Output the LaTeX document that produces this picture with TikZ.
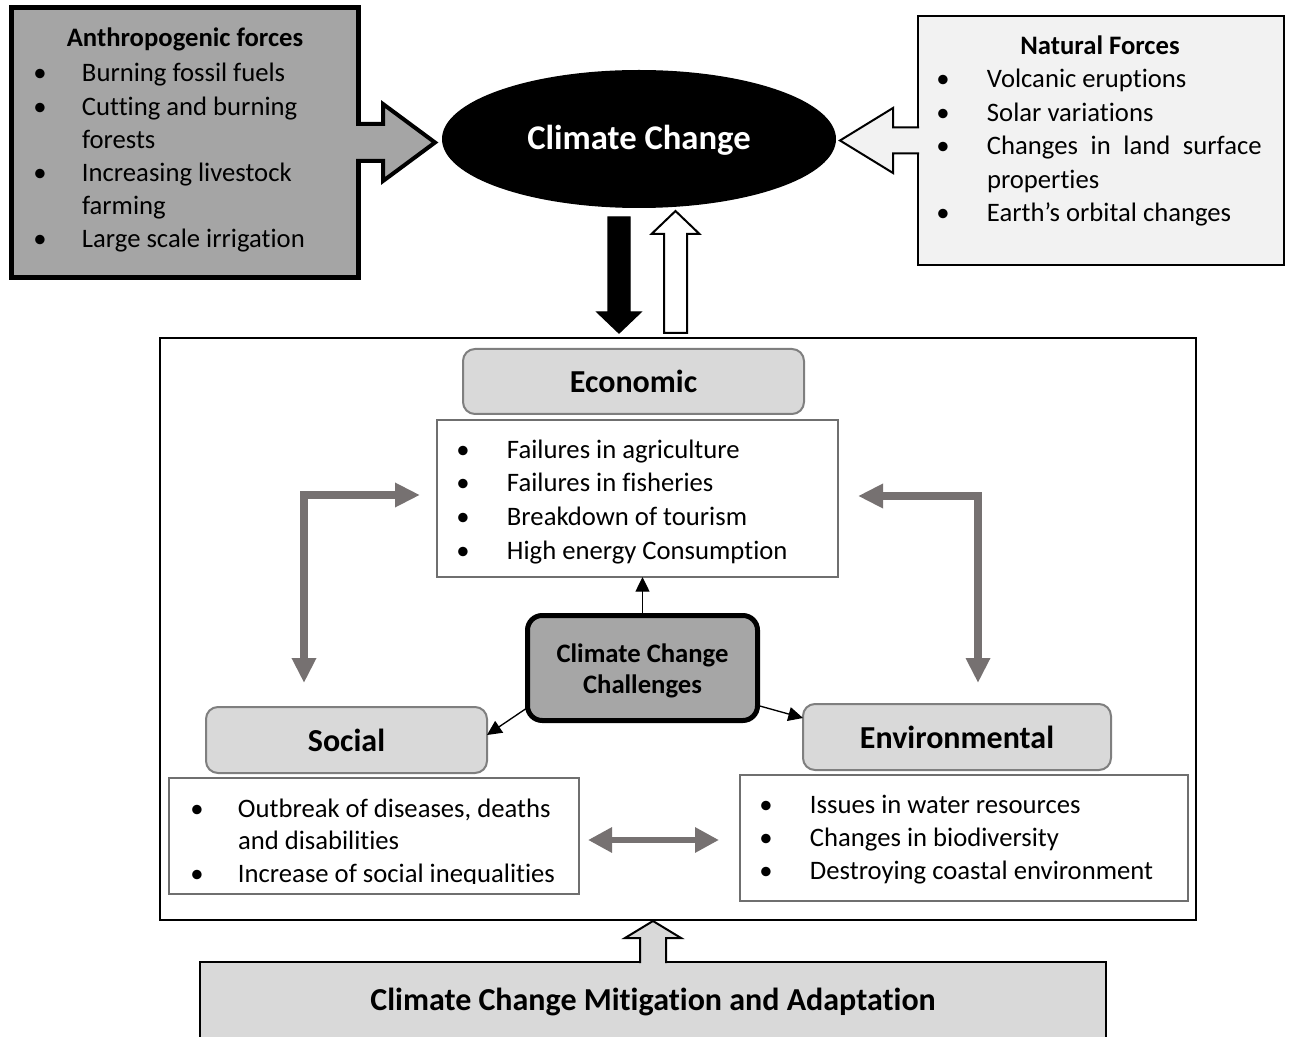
\documentclass[tikz,border=0pt]{standalone}
\usepackage{fontspec}
\setmainfont{Carlito}[Ligatures=NoCommon]
\usetikzlibrary{arrows.meta,calc,fit,shapes.geometric}
\definecolor{anthgray}{HTML}{A5A5A5}
\definecolor{natgray}{HTML}{F2F2F2}
\definecolor{hdrgray}{HTML}{D9D9D9}
\definecolor{hdrline}{HTML}{7F7F7F}
\definecolor{ccgray}{HTML}{A6A6A6}
\definecolor{arrgray}{HTML}{767171}
\definecolor{listline}{HTML}{6F6F6F}
\newcommand\bitem[1]{\llap{\textbullet\hspace{#1}}}
\begin{document}
\begin{tikzpicture}[x=0.75pt,y=-0.75pt,
  hdr/.style={inner sep=0pt, outer sep=0pt, draw=hdrline, fill=hdrgray, line width=1.5pt, rounded corners=9pt},
  hdrtext/.style={inner sep=0pt, font=\fontsize{24}{28}\selectfont\bfseries},
  listbox/.style={inner sep=0pt, outer sep=0pt, draw=listline, fill=white, line width=1.5pt},
  listtext/.style={inner sep=0pt, outer sep=0pt, anchor=base west},
  titletext/.style={inner sep=0pt, anchor=base, font=\fontsize{20}{24}\selectfont\bfseries},
  thinarr/.style={line width=1pt, -{Triangle[length=11pt,width=10.5pt]}},
  grayarr/.style={draw=arrgray, line width=6pt, {Triangle[length=18.75pt,width=17.25pt]}-{Triangle[length=18.75pt,width=17.25pt]}},
  grayarrh/.style={draw=arrgray, line width=5pt, {Triangle[length=18pt,width=18pt]}-{Triangle[length=18pt,width=18pt]}},
]
\useasboundingbox (0,0) rectangle (1292,1037);
\clip (0,0) rectangle (1292,1037);

% ---------- top: anthropogenic forces ----------
\node[inner sep=0pt, outer sep=0pt, fit={(11,7.5)(358,277.5)}, draw=black, line width=3.75pt, fill=anthgray] (anth) {};
\begin{scope}[shift={(anth.east)}]
  \fill[anthgray] (-3,-18.5) -- (25,-18.5) -- (25,-38.5) -- (77,0) -- (25,38.5) -- (25,18.5) -- (-3,18.5) -- cycle;
  \draw[line width=3pt, line join=miter] (-1.9,-18.5) -- (25,-18.5) -- (25,-38.5) -- (77,0) -- (25,38.5) -- (25,18.5) -- (-1.9,18.5);
\end{scope}
\node[titletext] (anthtitle) at (185,47) {Anthropogenic forces};
\node[listtext, font=\fontsize{20}{24.9}\selectfont] (anthtxt) at (82,82) {\begin{tabular}[t]{@{}l@{}}
\bitem{26.5pt}Burning fossil fuels\\
\bitem{26.5pt}Cutting and burning\\
forests\\
\bitem{26.5pt}Increasing livestock\\
farming\\
\bitem{26.5pt}Large scale irrigation
\end{tabular}};

% ---------- climate change ellipse ----------
\node[ellipse, fill=black, inner sep=0pt, minimum width=295.5pt, minimum height=103.5pt] (cc) at (639,139) {};
\node[inner sep=0pt, anchor=base, text=white, font=\fontsize{26}{30}\selectfont\bfseries] (cctxt) at (639,150) {Climate Change};

% ---------- natural forces ----------
\node[inner sep=0pt, outer sep=0pt, fit={(918,16)(1284,265)}, draw=black, line width=1.5pt, fill=natgray] (nat) {};
\begin{scope}[shift={(nat.west)}]
  \fill[natgray] (3,-13) -- (-25,-13) -- (-25,-32.5) -- (-78,0) -- (-25,32.5) -- (-25,13) -- (3,13) -- cycle;
  \draw[line width=1.5pt, line join=miter] (1,-13) -- (-25,-13) -- (-25,-32.5) -- (-78,0) -- (-25,32.5) -- (-25,13) -- (1,13);
\end{scope}
\node[titletext] (nattitle) at (1100,55) {Natural Forces};
\node[listtext, font=\fontsize{20}{25.1}\selectfont] (nattxt) at (987,88) {\begin{tabular}[t]{@{}l@{}}
\bitem{28pt}Volcanic eruptions\\
\bitem{28pt}Solar variations\\
\bitem{28pt}\makebox[206pt][s]{Changes in land surface}\\
properties\\
\bitem{28pt}Earth’s orbital changes
\end{tabular}};

% ---------- main frame ----------
\node[inner sep=0pt, outer sep=0pt, fit={(160,338)(1196,920)}, draw=black, line width=1.5pt] (frame) {};

% vertical block arrows between ellipse and frame
\begin{scope}[shift={(619,217)}]
  \draw[fill=black, line width=1pt, line join=miter] (-11,0) -- (11,0) -- (11,95) -- (22,95) -- (0,116) -- (-22,95) -- (-11,95) -- cycle;
\end{scope}
\begin{scope}[shift={(675.5,333)}]
  \draw[fill=white, line width=1.5pt, line join=miter] (-11.5,0) -- (11.5,0) -- (11.5,-99) -- (24,-99) -- (0,-122) -- (-24,-99) -- (-11.5,-99) -- cycle;
\end{scope}

% ---------- economic ----------
\node[hdr, fit={(463,349)(804,414)}] (econh) {};
\node[hdrtext] (econhtxt) at (econh.center) {Economic};
\node[listbox, fit={(437,420)(838,577)}] (econl) {};
\node[listtext, font=\fontsize{20}{25.3}\selectfont] (econtxt) at (507,458) {\begin{tabular}[t]{@{}l@{}}
\bitem{28pt}Failures in agriculture\\
\bitem{28pt}Failures in fisheries\\
\bitem{28pt}Breakdown of tourism\\
\bitem{28pt}High energy Consumption
\end{tabular}};

% ---------- social ----------
\node[hdr, fit={(206,707)(487,773)}] (soch) {};
\node[hdrtext] (sochtxt) at (soch.center) {Social};
\node[listbox, fit={(169,778)(579,894)}] (socl) {};
\begin{scope}
  \clip (169,778) rectangle (579,883.5);
  \node[listtext, font=\fontsize{20}{24.4}\selectfont] (soctxt) at (238,817) {\begin{tabular}[t]{@{}l@{}}
  \bitem{25.8pt}Outbreak of diseases, deaths\\
  and disabilities\\
  \bitem{25.8pt}Increase of social inequalities
  \end{tabular}};
\end{scope}

% ---------- environmental ----------
\node[hdr, fit={(803,704)(1111,770)}] (envh) {};
\node[hdrtext] (envhtxt) at (envh.center) {Environmental};
\node[listbox, fit={(740,775)(1188,901)}] (envl) {};
\node[listtext, font=\fontsize{20}{25.1}\selectfont] (envtxt) at (810,813) {\begin{tabular}[t]{@{}l@{}}
\bitem{28pt}Issues in water resources\\
\bitem{28pt}Changes in biodiversity\\
\bitem{28pt}Destroying coastal environment
\end{tabular}};

% ---------- centre box ----------
\node[inner sep=0pt, outer sep=0pt, fit={(527.5,615.5)(757.5,720.5)}, draw=black, line width=3.75pt, fill=ccgray, rounded corners=11pt] (ccc) {};
\node[inner sep=0pt, align=center, font=\fontsize{20}{23.5}\selectfont\bfseries] (ccctxt) at ($(ccc.center)+(0,3)$) {Climate Change\\Challenges};

% thin arrows
\draw[thinarr] (ccc.north) -- (ccc.north |- econl.south);
\draw[thinarr] (ccc.199) -- ($(soch.east)+(0,-5)$);
\draw[thinarr] (ccc.-18) -- ($(envh.west)+(0,-19)$);

% gray arrows
\draw[grayarr] ($(econl.west)+(-17,-3.5)$) -| ($(soch.north)+(-42.5,-24)$);
\draw[grayarr] ($(econl.east)+(20,-2.5)$) -| ($(envh.north)+(21,-21)$);
\draw[grayarrh] ($(socl.east)+(9,4)$) -- ($(envl.west)+(-21,2)$);

% ---------- mitigation ----------
\node[inner sep=0pt, outer sep=0pt, fit={(200,962)(1106,1050)}, draw=black, line width=1.5pt, fill=hdrgray] (mit) {};
\begin{scope}[shift={(mit.north)}]
  \fill[hdrgray] (-13,3) -- (-13,-24) -- (-28,-24) -- (0,-41) -- (28,-24) -- (13,-24) -- (13,3) -- cycle;
  \draw[line width=1.5pt, line join=miter] (-13,1) -- (-13,-24) -- (-28,-24) -- (0,-41) -- (28,-24) -- (13,-24) -- (13,1);
\end{scope}
\node[titletext, font=\fontsize{24}{28}\selectfont\bfseries] (mittxt) at (653,1010) {Climate Change Mitigation and Adaptation};
\end{tikzpicture}
\end{document}
